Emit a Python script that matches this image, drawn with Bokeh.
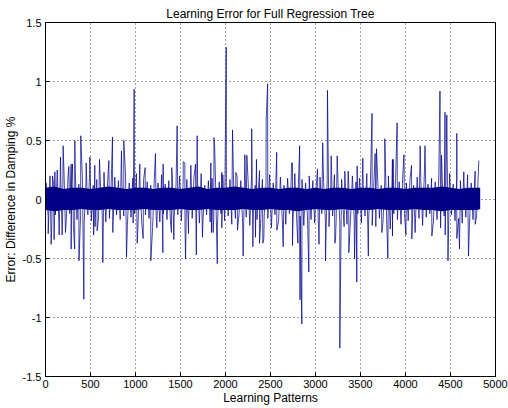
import numpy as np
from bokeh.plotting import figure
from bokeh.models import FixedTicker, Range1d
from bokeh.embed import file_html
from bokeh.resources import INLINE

# ---------------- data ----------------
x_ticks = [0, 500, 1000, 1500, 2000, 2500, 3000, 3500, 4000, 4500, 5000]
y_ticks = [-1.5, -1.0, -0.5, 0.0, 0.5, 1.0, 1.5]
y_tick_labels = {-1.5: "-1.5", -1.0: "-1", -0.5: "-0.5", 0.0: "0", 0.5: "0.5", 1.0: "1", 1.5: "1.5"}

# dense dark core of the error signal (envelope every 100 learning patterns)
core_x = [0, 100, 200, 300, 400, 500, 600, 700, 800, 900, 1000, 1100, 1200, 1300, 1400, 1500,
          1600, 1700, 1800, 1900, 2000, 2100, 2200, 2300, 2400, 2500, 2600, 2700, 2800, 2900,
          3000, 3100, 3200, 3300, 3400, 3500, 3600, 3700, 3800, 3900, 4000, 4100, 4200, 4300,
          4400, 4500, 4600, 4700, 4800, 4830]
core_hi = [0.10, 0.11, 0.09, 0.10, 0.10, 0.09, 0.10, 0.11, 0.10, 0.09, 0.10, 0.10, 0.09, 0.10,
           0.10, 0.09, 0.10, 0.11, 0.09, 0.10, 0.10, 0.11, 0.10, 0.09, 0.10, 0.10, 0.09, 0.10,
           0.10, 0.09, 0.10, 0.09, 0.10, 0.10, 0.09, 0.10, 0.10, 0.09, 0.10, 0.10, 0.09, 0.10,
           0.10, 0.10, 0.11, 0.10, 0.09, 0.10, 0.10, 0.10]
core_lo = [-0.09, -0.10, -0.09, -0.09, -0.08, -0.09, -0.09, -0.08, -0.09, -0.09, -0.09, -0.08,
           -0.09, -0.09, -0.09, -0.08, -0.09, -0.09, -0.08, -0.09, -0.09, -0.09, -0.08, -0.09,
           -0.09, -0.08, -0.09, -0.09, -0.10, -0.09, -0.08, -0.09, -0.09, -0.08, -0.09, -0.09,
           -0.09, -0.08, -0.09, -0.09, -0.09, -0.08, -0.09, -0.09, -0.10, -0.09, -0.09, -0.09,
           -0.09, -0.08]

# medium excursions of the error signal (every 40 patterns, alternating up / down)
med_up = [0.14, 0.20, 0.13, 0.22, 0.17, 0.12, 0.19, 0.15, 0.24, 0.13, 0.18, 0.16, 0.21, 0.12, 0.17,
          0.14, 0.23, 0.15, 0.13, 0.19, 0.16, 0.12, 0.20, 0.14, 0.18, 0.22, 0.13, 0.17, 0.15, 0.12,
          0.19, 0.14, 0.21, 0.13, 0.16, 0.18, 0.12, 0.20, 0.15, 0.17, 0.13, 0.19, 0.14, 0.22, 0.12,
          0.16, 0.18, 0.13, 0.15, 0.21, 0.12, 0.17, 0.14, 0.19, 0.16, 0.13, 0.18, 0.20, 0.12, 0.15,
          0.17, 0.13, 0.21, 0.14, 0.16, 0.19, 0.12, 0.18, 0.15, 0.22, 0.13, 0.17, 0.14, 0.20, 0.16,
          0.12, 0.19, 0.15, 0.18, 0.13, 0.21, 0.14, 0.17, 0.16, 0.12, 0.20, 0.15, 0.18, 0.13, 0.22,
          0.14, 0.17, 0.19, 0.12, 0.16, 0.20, 0.13, 0.18, 0.15, 0.21, 0.14, 0.17, 0.12, 0.19, 0.16,
          0.23, 0.13, 0.18, 0.15, 0.20, 0.14, 0.17, 0.22, 0.13, 0.19, 0.16, 0.15, 0.21, 0.14, 0.18]
med_dn = [-0.16, -0.21, -0.13, -0.24, -0.15, -0.19, -0.12, -0.22, -0.17, -0.14, -0.20, -0.13, -0.18,
          -0.23, -0.15, -0.12, -0.19, -0.16, -0.21, -0.13, -0.17, -0.14, -0.22, -0.15, -0.12, -0.18,
          -0.20, -0.13, -0.16, -0.24, -0.14, -0.19, -0.12, -0.17, -0.21, -0.15, -0.13, -0.18, -0.22,
          -0.14, -0.16, -0.12, -0.20, -0.17, -0.13, -0.19, -0.15, -0.23, -0.12, -0.18, -0.14, -0.21,
          -0.16, -0.13, -0.19, -0.15, -0.22, -0.12, -0.17, -0.20, -0.14, -0.16, -0.24, -0.13, -0.18,
          -0.15, -0.21, -0.12, -0.19, -0.16, -0.14, -0.22, -0.13, -0.17, -0.20, -0.15, -0.12, -0.18,
          -0.23, -0.14, -0.16, -0.19, -0.13, -0.21, -0.15, -0.17, -0.12, -0.20, -0.14, -0.18, -0.22,
          -0.13, -0.16, -0.19, -0.15, -0.25, -0.12, -0.17, -0.21, -0.14, -0.18, -0.13, -0.20, -0.16,
          -0.22, -0.15, -0.12, -0.19, -0.17, -0.24, -0.14, -0.21, -0.13, -0.18, -0.16, -0.20, -0.15,
          -0.23, -0.17, -0.14]

# large individual spikes: learning pattern index, error value
spike_x = [78, 104, 130, 167, 196, 259, 285, 300, 326, 392, 452, 493, 548, 600, 704, 744, 844, 870,
           985, 1048, 1107, 1222, 1307, 1403, 1463, 1530, 1548, 1615, 1667, 1685, 1837, 1872, 1880,
           1959, 2008, 2078, 2115, 2215, 2237, 2291, 2344, 2378, 2452, 2468, 2569, 2734, 2744, 2824,
           3022, 3080, 3133, 3174, 3241, 3326, 3363, 3463, 3526, 3628, 3663, 3678, 3770, 3855, 3863,
           3907, 3983, 4067, 4163, 4217, 4383, 4400, 4439, 4459, 4570, 4648, 4774, 4815,
           30, 63, 96, 152, 185, 222, 285, 324, 372, 426, 535, 574, 637, 748, 900, 974, 1019, 1085,
           1170, 1237, 1304, 1400, 1426, 1556, 1589, 1676, 1744, 1844, 1863, 1909, 1959, 2133, 2196,
           2304, 2333, 2378, 2415, 2426, 2570, 2641, 2744, 2804, 2828, 2848, 2926, 3039, 3111, 3215,
           3222, 3270, 3318, 3370, 3434, 3459, 3587, 3670, 3737, 3804, 3855, 4005, 4070, 4107, 4293,
           4441, 4472, 4570, 4600, 4700, 4774]
spike_y = [0.20, 0.235, 0.25, 0.36, 0.455, 0.28, 0.30, 0.30, 0.50, 0.54, 0.31, 0.36, 0.29, 0.34, 0.33,
           0.53, 0.41, 0.50, 0.935, 0.30, 0.27, 0.39, 0.30, 0.27, 0.625, 0.32, 0.31, 0.29, 0.30, 0.54,
           0.31, 0.525, 0.44, 0.23, 1.29, 0.59, 0.23, 0.38, 0.375, 0.60, 0.34, 0.245, 0.67, 0.98, 0.40,
           0.31, 0.31, 0.455, 0.26, 0.48, 0.925, 0.37, 0.37, 0.24, 0.24, 0.285, 0.35, 0.73, 0.39, 0.43,
           0.515, 0.34, 0.34, 0.65, 0.38, 0.29, 0.455, 0.455, 0.92, 0.375, 0.74, 0.715, 0.56, 0.235,
           0.24, 0.33,
           -0.29, -0.38, -0.34, -0.30, -0.30, -0.28, -0.42, -0.42, -0.52, -0.845, -0.30, -0.265, -0.535,
           -0.28, -0.49, -0.20, -0.37, -0.33, -0.52, -0.24, -0.45, -0.28, -0.34, -0.505, -0.29, -0.47,
           -0.32, -0.28, -0.28, -0.545, -0.24, -0.26, -0.48, -0.40, -0.32, -0.37, -0.37, -0.33, -0.26,
           -0.40, -0.39, -0.37, -0.85, -1.055, -0.615, -0.38, -0.52, -0.37, -0.35, -1.26, -0.23, -0.45,
           -0.50, -0.70, -0.48, -0.23, -0.28, -0.50, -0.31, -0.30, -0.335, -0.28, -0.31, -0.30, -0.52,
           -0.33, -0.42, -0.48, -0.21]

title_text = "Learning Error for Full Regression Tree"
x_label_text = "Learning Patterns"
y_label_text = "Error: Difference in Damping %"

# ---------------- build the error series (one line, like the original plot) ----------------
med_up_x = np.arange(10, 10 + 40 * len(med_up), 40)
med_dn_x = np.arange(30, 30 + 40 * len(med_dn), 40)
sig_x = np.concatenate([med_up_x, med_dn_x, np.array(spike_x)])
sig_y = np.concatenate([np.array(med_up), np.array(med_dn), np.array(spike_y)])
order = np.argsort(sig_x, kind="stable")
sig_x = sig_x[order]
sig_y = sig_y[order]

# ---------------- figure ----------------
FONT = "Liberation Sans"
NAVY = "#00008b"

p = figure(width=508, height=408, output_backend="svg", toolbar_location=None,
           x_range=Range1d(0, 5000), y_range=Range1d(-1.5, 1.5),
           min_border_left=45, min_border_right=13, min_border_top=22, min_border_bottom=32,
           background_fill_color="white", border_fill_color="white")

p.title.text = title_text
p.title.text_font = FONT
p.title.text_font_size = "12px"
p.title.text_font_style = "normal"
p.title.text_color = "black"
p.title.align = "center"
p.title.standoff = 4

p.varea(x=core_x, y1=core_lo, y2=core_hi, fill_color="#000080", fill_alpha=1.0)
p.line(x=sig_x, y=sig_y, line_color=NAVY, line_width=0.9, line_alpha=0.8)

# axes styling (MATLAB-like box)
for ax in (p.xaxis[0], p.yaxis[0]):
    ax.axis_line_color = "black"
    ax.major_tick_line_color = "black"
    ax.major_tick_in = 4
    ax.major_tick_out = 0
    ax.minor_tick_line_color = None
    ax.major_label_text_font = FONT
    ax.major_label_text_font_size = "11px"
    ax.major_label_text_color = "black"
    ax.axis_label_text_font = FONT
    ax.axis_label_text_font_size = "12px"
    ax.axis_label_text_font_style = "normal"
    ax.axis_label_text_color = "black"

p.xaxis.ticker = FixedTicker(ticks=x_ticks)
p.yaxis.ticker = FixedTicker(ticks=y_ticks)
p.yaxis.major_label_overrides = y_tick_labels
p.xaxis.axis_label = x_label_text
p.yaxis.axis_label = y_label_text
p.xaxis.major_label_standoff = 3
p.yaxis.major_label_standoff = 4
p.xaxis.axis_label_standoff = 0
p.yaxis.axis_label_standoff = 2

p.xgrid.ticker = FixedTicker(ticks=x_ticks)
p.ygrid.ticker = FixedTicker(ticks=y_ticks)
for g in (p.xgrid[0], p.ygrid[0]):
    g.grid_line_color = "#333333"
    g.grid_line_dash = "1 3"
    g.grid_line_width = 1
    g.grid_line_alpha = 0.9

p.outline_line_color = "black"
p.outline_line_alpha = 1.0

open("out.html", "w").write(file_html(p, INLINE))
